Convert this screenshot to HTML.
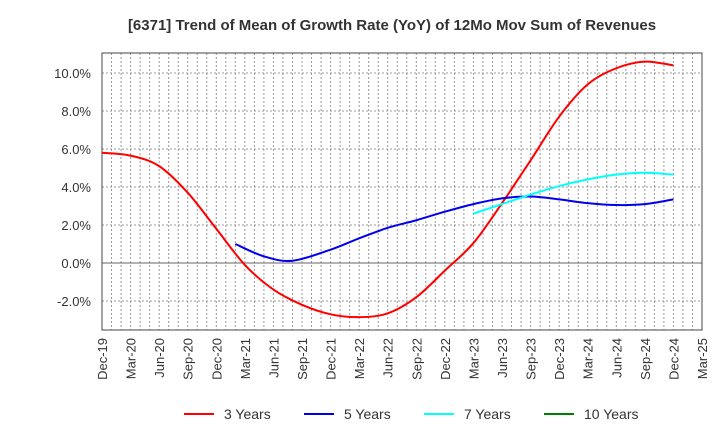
<!DOCTYPE html>
<html><head><meta charset="utf-8"><style>
body{margin:0;background:#fff;font-family:"Liberation Sans",sans-serif}
</style></head><body>
<svg id="chart" width="720" height="440" xmlns="http://www.w3.org/2000/svg" font-family="Liberation Sans, sans-serif">
<text x="392" y="30" text-anchor="middle" font-size="15" font-weight="bold" fill="#333">[6371]  Trend of Mean of Growth Rate (YoY) of 12Mo Mov Sum of Revenues</text>
<g id="grid"></g><g id="axes"></g><g id="series"></g><g id="legend"></g>
</svg>
<script>
const xLabels=["Dec-19","Mar-20","Jun-20","Sep-20","Dec-20","Mar-21","Jun-21","Sep-21","Dec-21","Mar-22","Jun-22","Sep-22","Dec-22","Mar-23","Jun-23","Sep-23","Dec-23","Mar-24","Jun-24","Sep-24","Dec-24","Mar-25"];
const yTicks=[-2,0,2,4,6,8,10];
// month indexes from Dec-19
const m3=[0,3,6,9,12,15,18,21,24,27,30,33,36,39,42,45,48,51,54,57,60];
const v3=[5.8,5.65,5.1,3.7,1.8,-0.1,-1.4,-2.2,-2.7,-2.85,-2.65,-1.8,-0.4,1.05,3.15,5.4,7.7,9.4,10.25,10.6,10.4];
const m5=[14,17,20,24,27,30,33,36,39,42,45,48,51,54,57,60];
const v5=[1.0,0.35,0.12,0.7,1.3,1.85,2.25,2.7,3.1,3.4,3.5,3.35,3.15,3.05,3.1,3.35];
const m7=[39,42,45,48,51,54,57,60];
const v7=[2.6,3.1,3.6,4.05,4.4,4.65,4.75,4.65];
const m10=[];const v10=[];
const L=102,R=702,T=53,B=330;
const X=m=>L+m*(R-L)/63;
const Y=v=>263-v*19.0;
const NS="http://www.w3.org/2000/svg";
function mk(t,a,p){const e=document.createElementNS(NS,t);for(const k in a)e.setAttribute(k,a[k]);p.appendChild(e);return e;}
const grid=document.getElementById('grid'),axes=document.getElementById('axes'),ser=document.getElementById('series'),leg=document.getElementById('legend');
for(let m=1;m<63;m++){const l=mk('line',{x1:X(m),x2:X(m),y1:T,y2:B,stroke:'#999','stroke-dasharray':'2,2','stroke-width':1},grid);

}
yTicks.forEach(v=>{if(v===0)return;const y=Y(v);const l=mk('line',{x1:L,x2:R,y1:y,y2:y,stroke:'#999','stroke-dasharray':'2,2','stroke-width':1},grid);

});
const z=mk('line',{x1:L,x2:R,y1:Y(0),y2:Y(0),stroke:'#666','stroke-width':1},axes);


const fr=mk('rect',{x:L,y:T,width:R-L,height:B-T,fill:'none',stroke:'#444','stroke-width':1},axes);


yTicks.forEach(v=>{const t=mk('text',{x:L-11,y:Y(v)+5,'text-anchor':'end','font-size':13,fill:'#333'},axes);t.textContent=v.toFixed(1)+'%';

});
xLabels.forEach((s,i)=>{const x=X(i*3)+5;const t=mk('text',{x:x,y:B+8,'text-anchor':'end','font-size':13,fill:'#333',transform:`rotate(-90 ${x} ${B+8})`},axes);t.textContent=s;

});
function path(ms,vs){const p=ms.map((m,i)=>[X(m),Y(vs[i])]);if(!p.length)return'';let d=`M${p[0][0]},${p[0][1]}`;
for(let i=0;i<p.length-1;i++){const p0=p[i-1]||p[i],p1=p[i],p2=p[i+1],p3=p[i+2]||p2;
d+=` C${p1[0]+(p2[0]-p0[0])/6},${p1[1]+(p2[1]-p0[1])/6} ${p2[0]-(p3[0]-p1[0])/6},${p2[1]-(p3[1]-p1[1])/6} ${p2[0]},${p2[1]}`;}return d;}
const S=[[m3,v3,'#ff0000','3 Years','line-3-years'],[m5,v5,'#0000ee','5 Years','line-5-years'],[m7,v7,'#00ffff','7 Years','line-7-years'],[m10,v10,'#008000','10 Years','line-10-years']];
const lx=[184,304,424,544];
S.forEach((s,i)=>{if(s[0].length){const p=mk('path',{d:path(s[0],s[1]),fill:'none',stroke:s[2],'stroke-width':2},ser);

}
const g=mk('g',{},leg);


mk('line',{x1:lx[i],x2:lx[i]+30,y1:414,y2:414,stroke:s[2],'stroke-width':2},g);
const t=mk('text',{x:lx[i]+40,y:419,'font-size':14,fill:'#333'},g);t.textContent=s[3];});
</script>
</body></html>
